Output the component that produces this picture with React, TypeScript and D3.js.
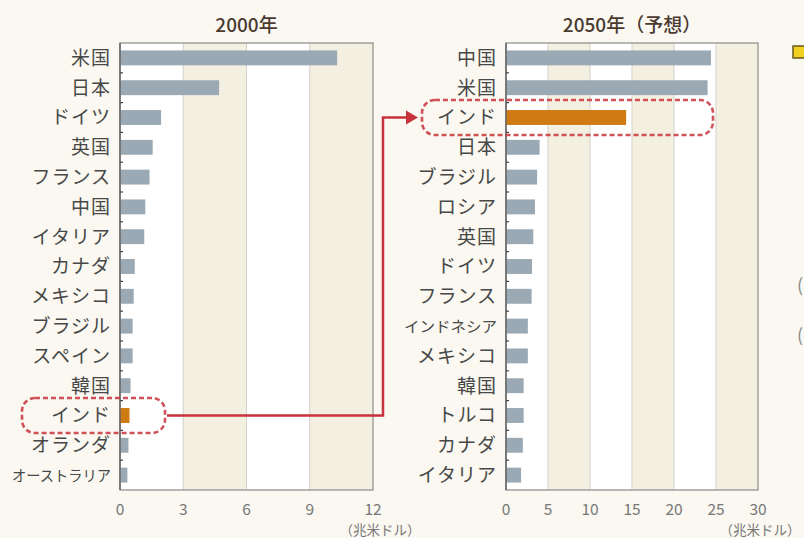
import * as d3 from "d3";

const countries2000 = ["米国", "日本", "ドイツ", "英国", "フランス", "中国", "イタリア", "カナダ", "メキシコ", "ブラジル", "スペイン", "韓国", "インド", "オランダ", "オーストラリア"];
const gdp2000 = [10.3, 4.7, 1.95, 1.55, 1.4, 1.2, 1.15, 0.7, 0.65, 0.6, 0.6, 0.5, 0.45, 0.4, 0.35];
const ticks2000 = [0, 3, 6, 9, 12];

const countries2050 = ["中国", "米国", "インド", "日本", "ブラジル", "ロシア", "英国", "ドイツ", "フランス", "インドネシア", "メキシコ", "韓国", "トルコ", "カナダ", "イタリア"];
const gdp2050 = [24.4, 24.0, 14.3, 4.0, 3.7, 3.45, 3.25, 3.1, 3.05, 2.6, 2.6, 2.1, 2.1, 2.0, 1.8];
const ticks2050 = [0, 5, 10, 15, 20, 25, 30];

const highlight = "インド";
const unitLabel = "（兆米ドル）";

const FONT = "'Noto Sans CJK JP', 'Noto Sans', sans-serif";
const BAR = "#9aa9b3";
const HI = "#cf7a12";
const RED = "#c8323c";
const PAGE = "#faf8f1";
const BEIGE = "#f4f0e1";

// shared vertical extent of both plots
const top = 43;
const bottom = 490;

interface PanelProps {
  left: number;
  right: number;
  title: string;
  countries: string[];
  values: number[];
  ticks: number[];
}

function scalesFor(p: PanelProps) {
  const x = d3
    .scaleLinear()
    .domain([0, p.ticks[p.ticks.length - 1]])
    .range([p.left, p.right]);
  const y = d3
    .scaleBand<string>()
    .domain(p.countries)
    .range([top, bottom])
    .paddingInner(0.5)
    .paddingOuter(0.25);
  return { x, y };
}

function Panel(p: PanelProps) {
  const { x, y } = scalesFor(p);
  const step = y.step();
  return (
    <g>
      <text
        x={(p.left + p.right) / 2}
        y={32}
        textAnchor="middle"
        fontSize={19}
        fontWeight={500}
        fill="#4a3a30"
      >
        {p.title}
      </text>
      {/* alternating column bands */}
      {p.ticks.slice(0, -1).map((t, i) => (
        <rect
          key={"band" + i}
          x={x(t)}
          y={top}
          width={x(p.ticks[i + 1]) - x(t)}
          height={bottom - top}
          fill={i % 2 === 0 ? "#ffffff" : BEIGE}
        />
      ))}
      {p.ticks.slice(1, -1).map((t) => (
        <line key={"g" + t} x1={x(t)} x2={x(t)} y1={top} y2={bottom} stroke="#d3d0c8" strokeWidth={1} />
      ))}
      <rect
        x={p.left}
        y={top}
        width={p.right - p.left}
        height={bottom - top}
        fill="none"
        stroke="#8a8a8a"
        strokeWidth={1.2}
      />
      {p.countries.map((c, i) => (
        <rect
          key={c}
          x={x(0)}
          y={y(c)}
          width={x(p.values[i]) - x(0)}
          height={y.bandwidth()}
          fill={c === highlight ? HI : BAR}
        />
      ))}
      <line x1={p.left} x2={p.left} y1={top} y2={bottom} stroke="#666" strokeWidth={1.5} />
      {p.countries.slice(0, -1).map((c) => {
        const yy = (y(c) as number) + y.bandwidth() / 2 + step / 2;
        return <line key={"t" + c} x1={p.left} x2={p.left + 3} y1={yy} y2={yy} stroke="#444" strokeWidth={1.2} />;
      })}
      {p.countries.map((c) => {
        const long = c.length >= 6;
        return (
          <text
            key={"l" + c}
            x={p.left - 9}
            y={(y(c) as number) + y.bandwidth() / 2}
            dy="0.36em"
            textAnchor="end"
            fontSize={long ? 15 : 19}
            letterSpacing={long ? 0 : 1}
            fill="#484848"
            textLength={long ? (c.length === 7 ? 99 : 93) : undefined}
            lengthAdjust="spacingAndGlyphs"
          >
            {c}
          </text>
        );
      })}
      {p.ticks.map((t) => (
        <text key={"x" + t} x={x(t)} y={515} textAnchor="middle" fontSize={15.5} fill="#777">
          {t}
        </text>
      ))}
    </g>
  );
}

export default function App() {
  const leftPanel: PanelProps = {
    left: 120,
    right: 373,
    title: "2000年",
    countries: countries2000,
    values: gdp2000,
    ticks: ticks2000,
  };
  const rightPanel: PanelProps = {
    left: 506,
    right: 758,
    title: "2050年（予想）",
    countries: countries2050,
    values: gdp2050,
    ticks: ticks2050,
  };
  const sl = scalesFor(leftPanel);
  const sr = scalesFor(rightPanel);
  const yl = (sl.y(highlight) as number) + sl.y.bandwidth() / 2;
  const yr = (sr.y(highlight) as number) + sr.y.bandwidth() / 2;
  const hh = 35;

  // connector geometry
  const lBoxR = 165;
  const rBoxL = 422;
  const turnX = 383;

  return (
    <svg
      width={804}
      height={538}
      style={{ position: "absolute", left: 0, top: 0, background: PAGE, fontFamily: FONT }}
    >
      <rect width={804} height={538} fill={PAGE} />
      <Panel {...leftPanel} />
      <Panel {...rightPanel} />

      {/* highlight boxes */}
      <rect x={22} y={yl - hh / 2} width={lBoxR - 22} height={hh} rx={13} fill="none" stroke={RED} strokeWidth={2.6} strokeDasharray="5 3" opacity={0.85} />
      <rect x={rBoxL} y={yr - hh / 2} width={713 - rBoxL} height={hh} rx={13} fill="none" stroke={RED} strokeWidth={2.6} strokeDasharray="5 3" opacity={0.85} />

      {/* connector arrow */}
      <path
        d={`M${lBoxR + 2},${yl} H${turnX} V${yr} H${rBoxL - 14}`}
        fill="none"
        stroke={RED}
        strokeWidth={2.5}
      />
      <path d={`M${rBoxL - 16},${yr - 7} L${rBoxL - 4},${yr} L${rBoxL - 16},${yr + 7} Z`} fill={RED} />

      {/* unit labels */}
      <text x={380} y={535} textAnchor="middle" fontSize={13.5} fill="#777">
        {unitLabel}
      </text>
      <text x={760} y={535} textAnchor="middle" fontSize={13.5} fill="#777">
        {unitLabel}
      </text>

      {/* clipped neighbouring panel at the right edge */}
      <rect x={793} y={46} width={14} height={12} fill="#f0d020" stroke="#6b5a20" strokeWidth={1.5} />
      <text x={797} y={292} fontSize={18} fill="#888">(</text>
      <text x={797} y={342} fontSize={18} fill="#888">(</text>
    </svg>
  );
}
